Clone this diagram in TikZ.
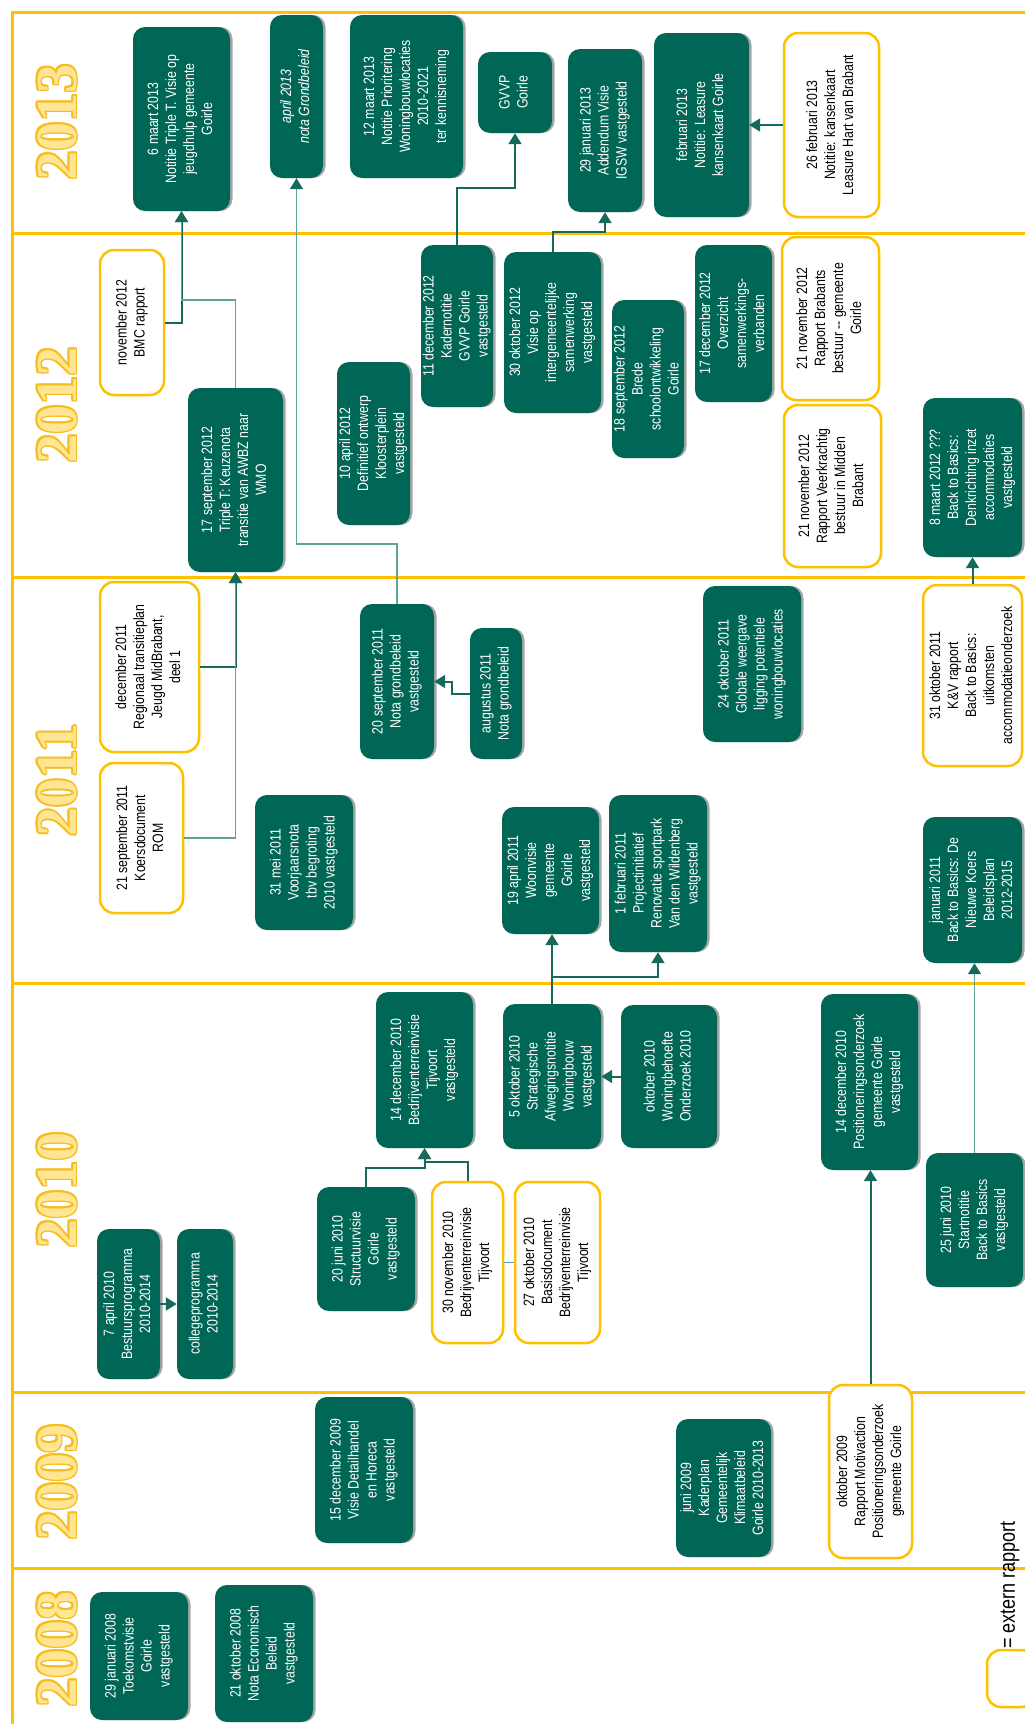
\documentclass[tikz,border=0pt]{standalone}
\usepackage{fontspec}
\usepackage{graphicx}
\setmainfont{Liberation Sans}
\newfontfamily\boxfont[FakeStretch=0.82]{Liberation Sans}
\newfontfamily\yearfont{Liberation Serif}
\usetikzlibrary{arrows.meta,shadows,calc}
\definecolor{goud}{HTML}{FFC000}
\definecolor{groen}{HTML}{006656}
\definecolor{lijn}{HTML}{17695C}
\definecolor{lijnlicht}{HTML}{5FA597}
\definecolor{jaarrand}{HTML}{F5BE1E}
\definecolor{jaarvul}{HTML}{FFE594}
\definecolor{blauw}{HTML}{5B9BD5}
\newcommand{\vt}[1]{\rotatebox{90}{\begin{tabular}{@{}c@{}}#1\end{tabular}}}
\tikzset{
  maat/.style 2 args={minimum width=#1pt, minimum height=#2pt},
  besluit/.style={rectangle, rounded corners=12pt, fill=groen, text=white, inner sep=0pt,
    font=\boxfont\fontsize{15}{18}\selectfont,
    drop shadow={shadow xshift=2.5pt, shadow yshift=0pt, fill=gray!70, opacity=1}},
  extern/.style={rectangle, rounded corners=14pt, draw=goud, line width=2.5pt, fill=white,
    text=black, inner sep=0pt, font=\boxfont\fontsize{15}{18}\selectfont},
  pijl/.style={draw=lijn, line width=2pt, -{Triangle[width=13pt,length=11pt]}},
  pijllicht/.style={draw=lijnlicht, line width=1.6pt, -{Triangle[width=13pt,length=11pt,color=lijn]}},
  jaaruit/.style={rotate=90, text=jaarrand, font=\yearfont\bfseries\fontsize{58}{58}\selectfont},
  jaarin/.style={rotate=90, text=jaarvul, font=\yearfont\bfseries\fontsize{58}{58}\selectfont},
  grens/.style={draw=goud, line width=3pt}
}
\begin{document}
\begin{tikzpicture}[x=1pt,y=-1pt]
\useasboundingbox (0,0) rectangle (1025,1724);
% jaarlijnen
\draw[grens] (12,1724) -- (12,12) -- (1025,12);
\draw[grens] (12,233) -- (1025,233); \draw[grens] (12,577) -- (1025,577); \draw[grens] (12,983) -- (1025,983);
\draw[grens] (12,1392) -- (1025,1392); \draw[grens] (12,1568) -- (1025,1568);
% jaartallen
\foreach \yr/\yy in {2013/122,2012/405,2011/780,2010/1190,2009/1482,2008/1649}{
  \foreach \a in {0,45,...,315} \node[jaaruit] at ($(57,\yy)+(\a:1.7pt)$) {\yr};
  \node[jaarin] (j\yr) at (57,\yy) {\yr};
}
% 2013
\node[besluit, maat={97}{184}] (mrt6) at (181.5,119) {\vt{6 maart 2013\\Notitie Triple T. Visie op\\jeugdhulp gemeente\\Goirle}};
\node[besluit, maat={53}{163}] (apr13) at (296.5,96.5) {\vt{\itshape april 2013\\\itshape nota Grondbeleid}};
\node[besluit, maat={113}{163}] (mrt12) at (406.5,96.5) {\vt{12 maart 2013\\Notitie Prioritering\\Woningbouwlocaties\\2010-2021\\ter kennisneming}};
\node[besluit, maat={74}{81}] (gvvp) at (515,92.5) {\vt{GVVP\\Goirle}};
\node[besluit, maat={74}{163}] (jan29) at (605,130.5) {\vt{29 januari 2013\\Addendum Visie\\IGSW vastgesteld}};
\node[besluit, maat={95}{184}] (feb13) at (701.5,125) {\vt{februari 2013\\Notitie: Leasure\\kansenkaart Goirle}};
\node[extern, maat={95}{184}] (feb26) at (831.5,125) {\vt{26 februari 2013\\Notitie: kansenkaart\\Leasure Hart van Brabant}};
% 2012
\node[extern, maat={64}{145}] (bmc) at (132,322.5) {\vt{november 2012\\BMC rapport}};
\node[besluit, maat={95}{184}] (sep17) at (235.5,480) {\vt{17 september 2012\\Triple T: Keuzenota\\transitie van AWBZ naar\\WMO}};
\node[besluit, maat={73}{163}] (apr10) at (373.5,443.5) {\vt{10 april 2012\\Definitief ontwerp\\Kloosterplein\\vastgesteld}};
\node[besluit, maat={72}{162}] (dec11b) at (457,326) {\vt{11 december 2012\\Kadernotitie\\GVVP Goirle\\vastgesteld}};
\node[besluit, maat={97}{161}] (okt30) at (552.5,332.5) {\vt{30 oktober 2012\\Visie op\\intergemeentelijke\\samenwerking\\vastgesteld}};
\node[besluit, maat={70}{158}] (sep18) at (648,379) {\vt{18 september 2012\\Brede\\schoolontwikkeling\\Goirle}};
\node[besluit, maat={77}{157}] (dec17) at (733.5,323.5) {\vt{17 december 2012\\Overzicht\\samenwerkings-\\verbanden}};
\node[extern, maat={97}{163}] (nov21a) at (830.5,318.5) {\vt{21 november 2012\\Rapport Brabants\\bestuur -- gemeente\\Goirle}};
\node[extern, maat={97}{162}] (nov21b) at (832.5,486) {\vt{21 november 2012\\Rapport Veerkrachtig\\bestuur in Midden\\Brabant}};
\node[besluit, maat={99}{159}] (mrt8) at (972.5,477.5) {\vt{8 maart 2012 ???\\Back to Basics:\\Denkrichting inzet\\accommodaties\\vastgesteld}};
% 2011
\node[extern, maat={99}{170}] (dec11) at (149.5,667) {\vt{december 2011\\Regionaal transitieplan\\Jeugd MidBrabant,\\deel 1}};
\node[extern, maat={83}{150}] (sep21) at (141.5,838) {\vt{21 september 2011\\Koersdocument\\ROM}};
\node[besluit, maat={74}{155}] (sep20) at (397,681.5) {\vt{20 september 2011\\Nota grondbeleid\\vastgesteld}};
\node[besluit, maat={52}{131}] (aug11) at (496,693.5) {\vt{augustus 2011\\Nota grondbeleid}};
\node[besluit, maat={98}{156}] (okt24) at (752,664) {\vt{24 oktober 2011\\Globale weergave\\ligging potentiele\\woningbouwlocaties}};
\node[extern, maat={99}{181}] (okt31) at (972.5,675.5) {\vt{31 oktober 2011\\K\&V rapport\\Back to Basics:\\uitkomsten\\accommodatieonderzoek}};
\node[besluit, maat={98}{135}] (mei31) at (304,862.5) {\vt{31 mei 2011\\Voorjaarsnota\\tbv begroting\\2010 vastgesteld}};
\node[besluit, maat={97}{127}] (apr19) at (550.5,870.5) {\vt{19 april 2011\\Woonvisie\\gemeente\\Goirle\\vastgesteld}};
\node[besluit, maat={98}{157}] (feb1) at (658,873.5) {\vt{1 februari 2011\\Projectinitiatief\\Renovatie sportpark\\Van den Wildenberg\\vastgesteld}};
\node[besluit, maat={99}{146}] (jan11) at (972.5,890) {\vt{januari 2011\\Back to Basics: De\\Nieuwe Koers\\Beleidsplan\\2012-2015}};
% 2010
\node[besluit, maat={97}{156}] (dec14b) at (424.5,1070) {\vt{14 december 2010\\Bedrijventerreinvisie\\Tijvoort\\vastgesteld}};
\node[besluit, maat={98}{145}] (okt5) at (552,1076.5) {\vt{5 oktober 2010\\Strategische\\Afwegingsnotitie\\Woningbouw\\vastgesteld}};
\node[besluit, maat={96}{143}] (okt10) at (669,1076.5) {\vt{oktober 2010\\Woningbehoefte\\Onderzoek 2010}};
\node[besluit, maat={97}{176}] (dec14p) at (869.5,1082) {\vt{14 december 2010\\Positioneringsonderzoek\\gemeente Goirle\\vastgesteld}};
\node[besluit, maat={97}{134}] (jun25) at (974.5,1220) {\vt{25 juni 2010\\Startnotitie\\Back to Basics\\vastgesteld}};
\node[besluit, maat={63}{150}] (apr7) at (128.5,1304) {\vt{7 april 2010\\Bestuursprogramma\\2010-2014}};
\node[besluit, maat={56}{150}] (coll) at (205,1304) {\vt{collegeprogramma\\2010-2014}};
\node[besluit, maat={98}{124}] (jun20) at (366,1249) {\vt{20 juni 2010\\Structuurvisie\\Goirle\\vastgesteld}};
\node[extern, maat={71}{161}] (nov30) at (467.5,1262.5) {\vt{30 november 2010\\Bedrijventerreinvisie\\Tijvoort}};
\node[extern, maat={85}{161}] (okt27) at (557.5,1262.5) {\vt{27 oktober 2010\\Basisdocument\\Bedrijventerreinvisie\\Tijvoort}};
% 2009
\node[besluit, maat={98}{146}] (dec15) at (364,1470) {\vt{15 december 2009\\Visie Detailhandel\\en Horeca\\vastgesteld}};
\node[besluit, maat={95}{138}] (jun09) at (723.5,1488) {\vt{juni 2009\\Kaderplan\\Gemeentelijk\\Klimaatbeleid\\Goirle 2010-2013}};
\node[extern, maat={83}{173}] (okt09) at (870.5,1471.5) {\vt{oktober 2009\\Rapport Motivaction\\Positioneringsonderzoek\\gemeente Goirle}};
% 2008
\node[besluit, maat={98}{128}] (jan08) at (139,1656) {\vt{29 januari 2008\\Toekomstvisie\\Goirle\\vastgesteld}};
\node[besluit, maat={98}{137}] (okt08) at (264,1653.5) {\vt{21 oktober 2008\\Nota Economisch\\Beleid\\vastgesteld}};
% legenda
\node[extern, maat={48}{57}] (legbox) at (1011,1678.5) {};
\node[rotate=90, font=\boxfont\fontsize{22}{22}\selectfont] (legtxt) at (1010,1585) {= extern rapport};
% verbindingen
\draw[pijl] (bmc.east) -| (mrt6.south);
\draw[pijllicht] (sep17.north) -- ++(0,-88) -| (mrt6.south);
\draw[pijl] (dec11.east) -| (sep17.south);
\draw[pijllicht] (sep21.east) -| (sep17.south);
\draw[pijllicht] (sep20.north) -- ++(0,-60) -| (apr13.south);
\draw[pijl] (aug11.west) -- ++(-18,0) |- (sep20.east);
\draw[pijl] (dec11b.north) -- ++(0,-57) -| (gvvp.south);
\draw[pijl] (okt30.north) -- ++(0,-20) -| (jan29.south);
\draw[pijl] (feb26.west) -- (feb13.east);
\draw[pijl] (okt31.north) -- (mrt8.south);
\draw[pijl] (okt5.north) -- (okt5.north |- apr19.south);
\draw[pijl] (okt5.north) -- ++(0,-27) -| (feb1.south);
\draw[pijl] (okt10.west) -- (okt5.east);
\draw[pijl] (jun20.north) -- ++(0,-19) -| (dec14b.south);
\draw[pijl] (nov30.north) -- ++(0,-19) -| (dec14b.south);
\draw[blauw, line width=1.5pt] (nov30.east) -- (okt27.west);
\draw[pijl] (apr7.east) -- (coll.west);
\draw[pijl] (okt09.north) -- (okt09.north |- dec14p.south);
\draw[pijllicht] (jun25.north) -- (jun25.north |- jan11.south);
\end{tikzpicture}
\end{document}
